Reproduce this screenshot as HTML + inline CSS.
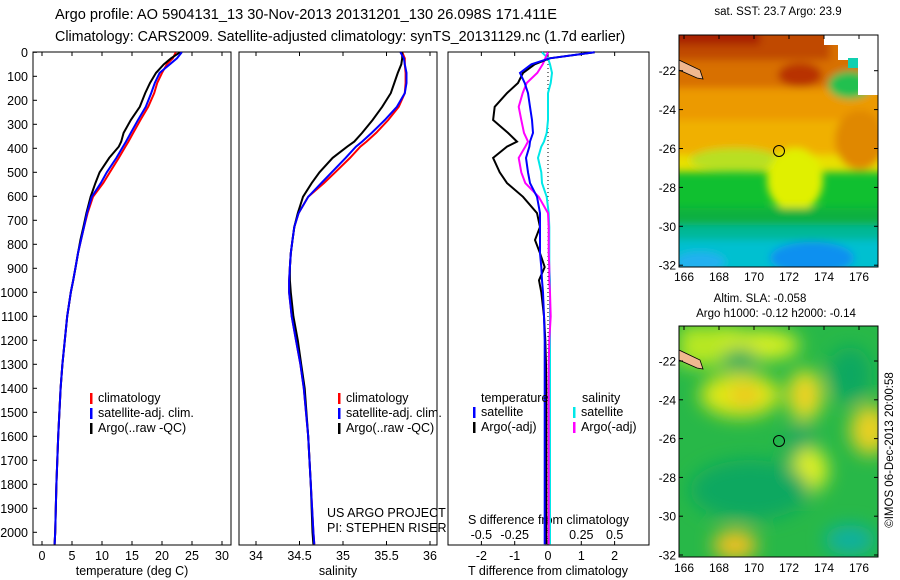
<!DOCTYPE html>
<html><head><meta charset="utf-8"><style>
body{margin:0;background:#fff;}
svg{display:block;font-family:"Liberation Sans",sans-serif;}
</style></head><body>
<svg id="fig" width="900" height="580" viewBox="0 0 900 580">
<defs>
<filter id="bl" x="-20%" y="-20%" width="140%" height="140%"><feGaussianBlur stdDeviation="4"/></filter>
<filter id="bl2" x="-20%" y="-20%" width="140%" height="140%"><feGaussianBlur stdDeviation="9"/></filter>
<clipPath id="m1c"><rect x="679" y="35" width="199" height="232"/></clipPath>
<clipPath id="m2c"><rect x="679" y="326" width="199" height="231"/></clipPath>
</defs>
<text x="55" y="19" font-size="14.6">Argo profile: AO 5904131_13 30-Nov-2013 20131201_130 26.098S 171.411E</text>
<text x="55" y="41" font-size="14.3">Climatology: CARS2009. Satellite-adjusted climatology: synTS_20131129.nc (1.7d earlier)</text>

<!-- SST map -->
<g clip-path="url(#m1c)">
<rect x="679" y="35" width="199" height="232" fill="#10c030"/>
<g filter="url(#bl)">
<rect x="660" y="20" width="240" height="152" fill="#e8e000"/>
<rect x="660" y="20" width="240" height="135" fill="#f0b000"/>
<rect x="660" y="20" width="240" height="100" fill="#ec9a00"/>
<rect x="660" y="20" width="240" height="68" fill="#d87000"/>
<rect x="660" y="20" width="170" height="40" fill="#c04800"/>
<rect x="660" y="20" width="100" height="25" fill="#a82000"/>
<ellipse cx="800" cy="75" rx="22" ry="12" fill="#b83000"/>
<ellipse cx="860" cy="140" rx="25" ry="30" fill="#e08800"/>
<ellipse cx="735" cy="160" rx="45" ry="12" fill="#b8e020"/>
<ellipse cx="795" cy="180" rx="28" ry="32" fill="#e0f000"/>
<rect x="660" y="208" width="240" height="22" fill="#10b040"/>
<rect x="660" y="225" width="240" height="20" fill="#00b898"/>
<rect x="660" y="240" width="240" height="40" fill="#00c0d0"/>
<ellipse cx="812" cy="258" rx="42" ry="16" fill="#1090f0"/>
<ellipse cx="700" cy="262" rx="25" ry="10" fill="#20b0f0"/>
<ellipse cx="850" cy="85" rx="22" ry="14" fill="#20c050"/>
</g>
<rect x="838" y="35" width="40" height="25" fill="#fff"/>
<rect x="858" y="55" width="20" height="40" fill="#fff"/>
<rect x="824" y="35" width="20" height="10" fill="#fff"/>
<rect x="848" y="58" width="10" height="10" fill="#10d0b0"/>
<path d="M679,60 L700,70 L703,79 L697,78 L679,70Z" fill="#f0b890" stroke="#000" stroke-width="0.8"/>
<circle cx="779" cy="151" r="5.5" fill="none" stroke="#000" stroke-width="1"/>
</g>
<rect x="679" y="35" width="199" height="232" fill="none" stroke="#000"/>
<text x="778" y="15" font-size="11.5" text-anchor="middle">sat. SST: 23.7 Argo: 23.9</text>

<!-- SLA map -->
<g clip-path="url(#m2c)">
<rect x="679" y="326" width="199" height="231" fill="#28b848"/>
<g filter="url(#bl2)">
<rect x="679" y="326" width="60" height="40" fill="#b8e820"/>
<ellipse cx="760" cy="345" rx="40" ry="15" fill="#d8f020"/>
<ellipse cx="740" cy="395" rx="40" ry="22" fill="#e0e818"/>
<ellipse cx="745" cy="395" rx="15" ry="10" fill="#f0c020"/>
<ellipse cx="805" cy="395" rx="18" ry="25" fill="#e8e020"/>
<ellipse cx="805" cy="395" rx="8" ry="10" fill="#f0c020"/>
<ellipse cx="800" cy="450" rx="15" ry="28" fill="#10a860"/>
<ellipse cx="810" cy="470" rx="18" ry="22" fill="#e0f020"/>
<ellipse cx="850" cy="375" rx="22" ry="28" fill="#10a860"/>
<ellipse cx="750" cy="490" rx="60" ry="30" fill="#10a860"/>
<ellipse cx="870" cy="430" rx="20" ry="25" fill="#e8d020"/>
<ellipse cx="735" cy="545" rx="22" ry="15" fill="#f0c020"/>
<ellipse cx="850" cy="540" rx="25" ry="15" fill="#10b0a0"/>
<ellipse cx="740" cy="360" rx="18" ry="12" fill="#10a860"/>
</g>
<path d="M679,350 L700,360 L703,369 L697,368 L679,360Z" fill="#f0b890" stroke="#000" stroke-width="0.8"/>
<circle cx="779" cy="441" r="5.5" fill="none" stroke="#000" stroke-width="1"/>
</g>
<rect x="679" y="326" width="199" height="231" fill="none" stroke="#000"/>
<text x="760" y="302" font-size="11.5" text-anchor="middle">Altim. SLA: -0.058</text>
<text x="776" y="317" font-size="11.5" text-anchor="middle">Argo h1000: -0.12 h2000: -0.14</text>
<text transform="translate(893,450) rotate(-90)" font-size="11.5" text-anchor="middle">©IMOS 06-Dec-2013 20:00:58</text>

<g id="plots"></g>
</svg>
<script>
const depths=[0,25,50,86,128,170,227,282,336,372,393,440,500,545,602,670,728,782,837,895,950,1000,1100,1200,1300,1400,1600,1800,2000,2050];
const tempClim=[22.3,21.8,20.8,20,19.2,18.7,17.7,16.4,15.2,14.4,13.9,12.8,11.3,10.2,8.5,7.6,7,6.5,6,5.6,5.2,4.8,4.2,3.8,3.4,3.1,2.7,2.4,2.2,2.1];
const tempSat=[23.3,22.5,21.3,19.6,18.8,18.2,17.3,16,14.8,14,13.5,12.4,10.8,9.8,8.3,7.5,7,6.5,6,5.6,5.2,4.8,4.2,3.8,3.4,3.1,2.7,2.4,2.2,2.1];
const tempArgo=[23,21.5,20.3,19,18,17.2,16.3,14.8,13.6,13.2,12.8,11.2,9.6,8.9,8.1,7.4,6.9,6.4,6,5.6,5.2,4.8,4.2,3.8,3.4,3.1,2.7,2.4,2.2,2.1];
const salClim=[35.68,35.71,35.71,35.72,35.72,35.71,35.64,35.52,35.38,35.27,35.2,35.08,34.91,34.78,34.6,34.49,34.44,34.42,34.4,34.39,34.38,34.38,34.41,34.46,34.51,34.55,34.6,34.63,34.66,34.67];
const salSat=[35.66,35.7,35.71,35.73,35.73,35.71,35.62,35.48,35.33,35.22,35.15,35.03,34.87,34.75,34.6,34.49,34.44,34.42,34.4,34.39,34.38,34.38,34.41,34.46,34.51,34.55,34.6,34.63,34.66,34.67];
const salArgo=[35.68,35.68,35.67,35.63,35.59,35.55,35.45,35.34,35.22,35.13,35.05,34.88,34.73,34.64,34.54,34.48,34.44,34.42,34.4,34.39,34.39,34.4,34.43,34.48,34.52,34.56,34.6,34.63,34.65,34.66];
const tDiffArgo=[1.4,0.05,-0.4,-0.75,-0.9,-1.23,-1.6,-1.65,-1.2,-0.93,-1.23,-1.65,-1.45,-1.23,-0.75,-0.33,-0.24,-0.39,-0.24,-0.1,-0.27,-0.2,-0.12,-0.08,-0.06,-0.05,-0.05,-0.05,-0.05,-0.05];
const tDiffSat=[1.4,0.05,-0.5,-0.84,-0.7,-0.6,-0.54,-0.48,-0.45,-0.54,-0.56,-0.66,-0.6,-0.54,-0.33,-0.24,-0.24,-0.24,-0.24,-0.2,-0.18,-0.15,-0.12,-0.1,-0.1,-0.1,-0.1,-0.1,-0.1,-0.1];
const sDiffArgo=[0,-0.02,-0.04,-0.08,-0.16,-0.19,-0.22,-0.2,-0.18,-0.15,-0.17,-0.22,-0.2,-0.17,-0.07,0,0.005,0.005,0.005,0.01,0.01,0.015,0.02,0.01,0.005,0.005,0.005,0.005,0.005,0.005];
const sDiffSat=[-0.045,0,0.015,0.03,0.02,0,0,0,-0.01,-0.03,-0.05,-0.075,-0.05,-0.045,-0.01,0.005,0.01,0.01,0.01,0.01,0.015,0.015,0.015,0.015,0.015,0.015,0.015,0.015,0.015,0.015];
const depthTicks=[0,100,200,300,400,500,600,700,800,900,1000,1100,1200,1300,1400,1500,1600,1700,1800,1900,2000];
const tempTicks=[0,5,10,15,20,25,30];
const salTicks=[34,34.5,35,35.5,36];
const tDiffTicks=[-2,-1,0,1,2];
const sDiffTicks=[-0.5,-0.25,0,0.25,0.5];
const latTicks=[22,24,26,28,30,32];
const lonTicks=[166,168,170,172,174,176];

const NS='http://www.w3.org/2000/svg';
const G=document.getElementById('plots');
function mk(tag,at,txt){const e=document.createElementNS(NS,tag);for(const k in at)e.setAttribute(k,at[k]);if(txt!==undefined)e.textContent=txt;G.appendChild(e);return e;}
const yD=d=>52.3+d*0.24;
const xT=t=>42+t*6;
const xS=s=>256+(s-34)*87;
const xTD=t=>548+t*33.3;
const xSD=s=>548+s*133.3;
const TOP=52,BOT=545;

function frame(x0,x1,name){const r=mk('rect',{x:x0,y:TOP,width:x1-x0,height:BOT-TOP,fill:'none',stroke:'#000','stroke-width':1});

}
frame(33,231,'temperature-panel-frame');
frame(239,437,'salinity-panel-frame');
frame(448,649,'difference-panel-frame');

depthTicks.forEach(d=>{
const l=mk('line',{x1:33,x2:37,y1:yD(d),y2:yD(d),stroke:'#000'});


const t=mk('text',{x:28,y:yD(d)+4.5,'font-size':12.5,'text-anchor':'end'},String(d));


});
function xticks(ticks,fx,labelY,name,top,bottom){ticks.forEach(v=>{
const x=fx(v);
if(bottom){const l=mk('line',{x1:x,x2:x,y1:BOT,y2:BOT-4,stroke:'#000'});

}
if(top){const l2=mk('line',{x1:x,x2:x,y1:TOP,y2:TOP+4,stroke:'#000'});

}
const t=mk('text',{x:x,y:labelY,'font-size':12.5,'text-anchor':'middle'},String(v));


});}
xticks(tempTicks,xT,560,'temperature',true,true);
xticks(salTicks,xS,560,'salinity',true,true);
xticks(tDiffTicks,xTD,560,'t-diff',false,true);
xticks(sDiffTicks,xSD,539,'s-diff',true,false);

function lbl(x,y,s,name,anchor){const t=mk('text',{x:x,y:y,'font-size':12.5,'text-anchor':anchor||'middle'},s);

}
lbl(132,575,'temperature (deg C)','temperature-axis-title');
lbl(338,575,'salinity','salinity-axis-title');
lbl(548,575,'T difference from climatology','t-diff-axis-title');
lbl(468,524,'S difference from climatology','s-diff-axis-title','start');
lbl(327,517,'US ARGO PROJECT','project-label','start');
lbl(327,532,'PI: STEPHEN RISER','pi-label','start');

const zl=mk('line',{x1:548,x2:548,y1:TOP,y2:BOT,stroke:'#000','stroke-dasharray':'1,3'});



function series(vals,fx,color,name){
const pts=vals.map((v,i)=>fx(v).toFixed(1)+','+yD(depths[i]).toFixed(1)).join(' ');
const p=mk('polyline',{points:pts,fill:'none',stroke:color,'stroke-width':2,'stroke-linejoin':'miter'});

}
series(tempClim,xT,'#ff0000','temp-climatology-line');
series(tempArgo,xT,'#000','temp-argo-line');
series(tempSat,xT,'#0000ff','temp-satellite-line');
series(salClim,xS,'#ff0000','sal-climatology-line');
series(salArgo,xS,'#000','sal-argo-line');
series(salSat,xS,'#0000ff','sal-satellite-line');
series(sDiffSat,xSD,'#00e8e8','s-diff-satellite-line');
series(sDiffArgo,xSD,'#ff00ff','s-diff-argo-line');
series(tDiffArgo,xTD,'#000','t-diff-argo-line');
series(tDiffSat,xTD,'#0000ff','t-diff-satellite-line');

function leg(x,y,color,s,name){
const r=mk('rect',{x:x,y:y-9,width:2.5,height:11,fill:color});


const t=mk('text',{x:x+8,y:y,'font-size':12.5},s);

}
[[90,'#ff0000','climatology'],[90,'#0000ff','satellite-adj. clim.'],[90,'#000','Argo(..raw -QC)']].forEach((e,i)=>leg(e[0],402+i*15,e[1],e[2],'temp-legend-entry'));
[[338,'#ff0000','climatology'],[338,'#0000ff','satellite-adj. clim.'],[338,'#000','Argo(..raw -QC)']].forEach((e,i)=>leg(e[0],402+i*15,e[1],e[2],'sal-legend-entry'));
lbl(481,402,'temperature','diff-legend-temp-header','start');
lbl(582,402,'salinity','diff-legend-sal-header','start');
leg(473,416,'#0000ff','satellite','diff-legend-t-sat');
leg(473,431,'#000','Argo(-adj)','diff-legend-t-argo');
leg(573,416,'#00e8e8','satellite','diff-legend-s-sat');
leg(573,431,'#ff00ff','Argo(-adj)','diff-legend-s-argo');

function mapAxes(top,latY0,latPx,lblY,pre){
latTicks.forEach(v=>{const y=latY0+(v-22)*latPx;
if(y<top-2||y>top+234)return;
const l=mk('line',{x1:878,x2:874,y1:y,y2:y,stroke:'#000'});


const l2=mk('line',{x1:679,x2:683,y1:y,y2:y,stroke:'#000'});


const t=mk('text',{x:676,y:y+4.5,'font-size':12,'text-anchor':'end'},'-'+v);

});
lonTicks.forEach(v=>{const x=684+(v-166)*17.5;
const l=mk('line',{x1:x,x2:x,y1:top,y2:top+4,stroke:'#000'});


const t=mk('text',{x:x,y:lblY,'font-size':12,'text-anchor':'middle'},String(v));

});}
mapAxes(35,70.7,19.45,281,'sst-map');
mapAxes(326,361,19.4,572,'sla-map');
</script>
</body></html>
